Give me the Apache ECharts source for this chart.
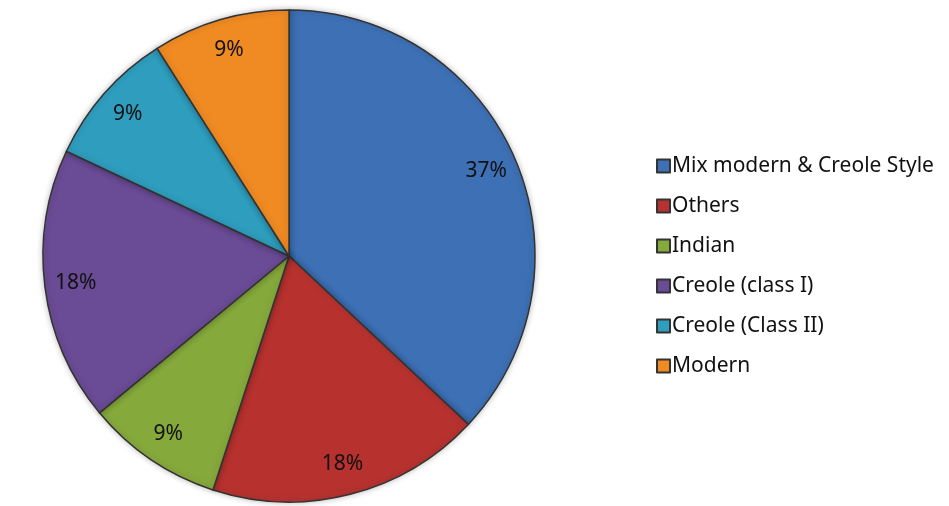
<!DOCTYPE html>
<html>
<head>
<meta charset="utf-8">
<script src="https://cdn.jsdelivr.net/npm/echarts@6/dist/echarts.min.js"></script>
<style>
  html, body { margin: 0; padding: 0; background: #fff; }
  #main { width: 949px; height: 506px; }
</style>
</head>
<body>
<div id="main"></div>
<script>
// data
const categories = ['Mix modern & Creole Style', 'Others', 'Indian', 'Creole (class I)', 'Creole (Class II)', 'Modern']
const shares = [37, 18, 9, 18, 9, 9]
const colors = ['#3d70b5', '#b7322f', '#86a93c', '#6a4b95', '#2f9dbe', '#f08a22']

const pieData = []
const labelData = []
for (let i = 0; i < categories.length; i++) {
  pieData.push({name: categories[i], value: shares[i], itemStyle: {color: colors[i]}})
  labelData.push({name: categories[i], value: shares[i]})
}

const chart = echarts.init(document.getElementById('main'))
const font = 'Noto Sans'
const option = {
  animation: false,
  legend: {
    orient: 'vertical',
    left: 651,
    top: 150,
    itemWidth: 13,
    itemHeight: 13,
    itemGap: 18,
    icon: 'rect',
    data: categories,
    textStyle: {fontFamily: font, fontSize: 21, color: '#111', padding: [0, 0, 0, -3], lineHeight: 22}
  },
  series: [
    {
      type: 'pie',
      center: [289, 256],
      radius: [0, 246],
      startAngle: 90,
      clockwise: true,
      label: {show: false},
      labelLine: {show: false},
      itemStyle: {
        borderColor: '#333',
        borderWidth: 1.5,
        shadowBlur: 6,
        shadowColor: 'rgba(0,0,0,0.25)'
      },
      data: pieData
    },
    {
      // invisible ring, only to place the percent labels near the rim
      type: 'pie',
      center: [289, 256],
      radius: [178, 246],
      startAngle: 90,
      clockwise: true,
      silent: true,
      itemStyle: {color: 'rgba(0,0,0,0)'},
      label: {
        show: true,
        position: 'inside',
        formatter: '{c}%',
        fontFamily: font,
        fontSize: 21,
        color: '#111'
      },
      labelLine: {show: false},
      data: labelData
    }
  ]
}
option && chart.setOption(option)
</script>
</body>
</html>
